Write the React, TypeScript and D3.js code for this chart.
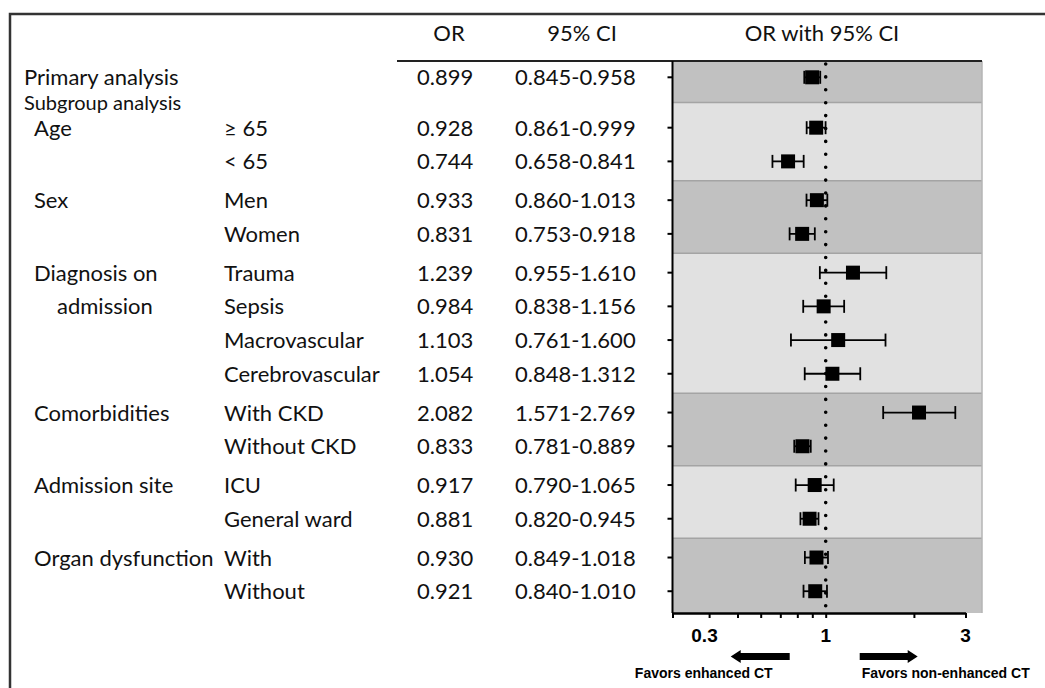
import { useEffect, useRef } from 'react'
import * as d3 from 'd3'

// table rows (first row is the primary analysis)
const groupLabels = [
  ['Primary analysis'],
  ['Age'],
  ['Sex'],
  ['Diagnosis on', 'admission'],
  ['Comorbidities'],
  ['Admission site'],
  ['Organ dysfunction']
]
const rowGroup = [0, 1, 1, 2, 2, 3, 3, 3, 3, 4, 4, 5, 5, 6, 6]
const rowLabels = ['', '≥ 65', '< 65', 'Men', 'Women', 'Trauma', 'Sepsis', 'Macrovascular',
  'Cerebrovascular', 'With CKD', 'Without CKD', 'ICU', 'General ward', 'With', 'Without']
const oddsRatio = [0.899, 0.928, 0.744, 0.933, 0.831, 1.239, 0.984, 1.103, 1.054, 2.082, 0.833, 0.917, 0.881, 0.930, 0.921]
const ciLower = [0.845, 0.861, 0.658, 0.860, 0.753, 0.955, 0.838, 0.761, 0.848, 1.571, 0.781, 0.790, 0.820, 0.849, 0.840]
const ciUpper = [0.958, 0.999, 0.841, 1.013, 0.918, 1.610, 1.156, 1.600, 1.312, 2.769, 0.889, 1.065, 0.945, 1.018, 1.010]
const xTicks = [0.3, 0.4, 0.5, 0.6, 0.7, 0.8, 0.9, 1, 2, 3]
const xTickLabels = [0.3, 1, 3]

export default function App() {
  const svgRef = useRef<SVGSVGElement>(null)

  useEffect(() => {
    document.body.style.margin = '0'
    const svg = d3.select(svgRef.current)
    svg.selectAll('*').remove()

    const tableFont = 'Lato, Calibri, sans-serif'
    const axisFont = '"Liberation Sans", Arial, sans-serif'
    const plotLeft = 672.5
    const plotRight = 982
    const plotTop = 61
    const plotBottom = 613

    // scales
    const xScale = d3.scaleLog().domain([0.3, 3]).range([plotLeft, 965.5])
    // rows: step 33.7, extra gap between groups, extra gap for the subgroup heading
    const slot = (i: number) => i + rowGroup[i] * 0.151 + (i > 0 ? 0.344 : 0)
    const yStep = d3.scaleLinear().domain([0, 1]).range([77.3, 111])
    const rowY = (i: number) => yStep(slot(i))
    const fmt = d3.format('.3f')

    // frame
    svg.append('path')
      .attr('d', 'M10,688 V14 H1045')
      .attr('fill', 'none')
      .attr('stroke', '#333')
      .attr('stroke-width', 2.5)

    // bands per group
    const nGroups = groupLabels.length
    const bandEdges = d3.range(nGroups + 1).map(g => {
      if (g === 0) return plotTop
      if (g === nGroups) return plotBottom
      const last = rowGroup.lastIndexOf(g - 1)
      const first = rowGroup.indexOf(g)
      return (rowY(last) + rowY(first)) / 2
    })
    svg.append('g')
      .selectAll('rect')
      .data(d3.range(nGroups))
      .join('rect')
      .attr('x', plotLeft)
      .attr('y', g => bandEdges[g])
      .attr('width', plotRight - plotLeft)
      .attr('height', g => bandEdges[g + 1] - bandEdges[g])
      .attr('fill', g => g % 2 === 0 ? '#c1c1c1' : '#e1e1e1')
    svg.append('g')
      .selectAll('line')
      .data(bandEdges.slice(1, -1))
      .join('line')
      .attr('x1', plotLeft).attr('x2', plotRight)
      .attr('y1', d => d).attr('y2', d => d)
      .attr('stroke', '#a4a4a4')
      .attr('stroke-width', 1.5)
    svg.append('line')
      .attr('x1', plotRight).attr('x2', plotRight)
      .attr('y1', plotTop).attr('y2', plotBottom)
      .attr('stroke', '#b4b4b4')
      .attr('stroke-width', 1.5)

    // header
    const header = svg.append('g')
      .style('font-family', tableFont)
      .style('font-size', '22px')
      .attr('fill', '#111')
      .attr('text-anchor', 'middle')
    header.append('text').attr('x', 449).attr('y', 41).text('OR')
    header.append('text').attr('x', 582).attr('y', 41).text('95% CI')
    header.append('text').attr('x', 822).attr('y', 41).text('OR with 95% CI')
    svg.append('line')
      .attr('x1', 397).attr('x2', plotRight)
      .attr('y1', plotTop).attr('y2', plotTop)
      .attr('stroke', '#222')
      .attr('stroke-width', 2)

    // table text
    const table = svg.append('g')
      .style('font-family', tableFont)
      .style('font-size', '22px')
      .attr('fill', '#111')
    table.append('text')
      .attr('x', 24).attr('y', rowY(0) + 32.7)
      .style('font-size', '20px')
      .text('Subgroup analysis')
    groupLabels.forEach((lines, g) => {
      const first = rowGroup.indexOf(g)
      lines.forEach((line, j) => {
        table.append('text')
          .attr('x', g === 0 ? 24 : (j === 0 ? 34 : 57))
          .attr('y', rowY(first + j) + 8)
          .text(line)
      })
    })
    table.selectAll('.sub')
      .data(rowLabels)
      .join('text')
      .attr('class', 'sub')
      .attr('x', 224)
      .attr('y', (_, i) => rowY(i) + 8)
      .text(d => d)
    table.selectAll('.or')
      .data(oddsRatio)
      .join('text')
      .attr('class', 'or')
      .attr('x', 417)
      .attr('y', (_, i) => rowY(i) + 8)
      .text(d => fmt(d))
    table.selectAll('.ci')
      .data(ciLower)
      .join('text')
      .attr('class', 'ci')
      .attr('x', 515)
      .attr('y', (_, i) => rowY(i) + 8)
      .text((d, i) => `${fmt(d)}-${fmt(ciUpper[i])}`)

    // reference line at OR = 1
    svg.append('line')
      .attr('x1', xScale(1)).attr('x2', xScale(1))
      .attr('y1', plotTop + 3).attr('y2', plotBottom - 4)
      .attr('stroke', '#000')
      .attr('stroke-width', 3.6)
      .attr('stroke-linecap', 'round')
      .attr('stroke-dasharray', '0 12.9')

    // whiskers + markers
    const marks = svg.append('g').attr('stroke', '#000').attr('stroke-width', 1.8)
    marks.selectAll('.ci-line')
      .data(oddsRatio)
      .join('line')
      .attr('class', 'ci-line')
      .attr('x1', (_, i) => xScale(ciLower[i]))
      .attr('x2', (_, i) => xScale(ciUpper[i]))
      .attr('y1', (_, i) => rowY(i))
      .attr('y2', (_, i) => rowY(i))
    marks.selectAll('.cap')
      .data([...ciLower, ...ciUpper])
      .join('line')
      .attr('class', 'cap')
      .attr('x1', d => xScale(d))
      .attr('x2', d => xScale(d))
      .attr('y1', (_, i) => rowY(i % oddsRatio.length) - 6.5)
      .attr('y2', (_, i) => rowY(i % oddsRatio.length) + 6.5)
    svg.append('g')
      .selectAll('rect')
      .data(oddsRatio)
      .join('rect')
      .attr('x', d => xScale(d) - 7)
      .attr('y', (_, i) => rowY(i) - 7)
      .attr('width', 14)
      .attr('height', 14)
      .attr('fill', '#000')

    // left axis
    const yAxis = svg.append('g')
    yAxis.append('line')
      .attr('x1', plotLeft).attr('x2', plotLeft)
      .attr('y1', plotTop).attr('y2', plotBottom)
      .attr('stroke', '#000').attr('stroke-width', 2)
    yAxis.selectAll('.ytick')
      .data(oddsRatio)
      .join('line')
      .attr('class', 'ytick')
      .attr('x1', plotLeft - 5).attr('x2', plotLeft)
      .attr('y1', (_, i) => rowY(i)).attr('y2', (_, i) => rowY(i))
      .attr('stroke', '#000').attr('stroke-width', 2)

    // bottom axis
    const xAxis = d3.axisBottom(xScale)
      .tickValues(xTicks)
      .tickSize(5)
      .tickSizeOuter(0)
      .tickFormat(() => '')
    const xg = svg.append('g')
      .attr('transform', `translate(0,${plotBottom})`)
      .call(xAxis)
    xg.select('.domain').attr('stroke', '#000').attr('stroke-width', 2.5)
    xg.selectAll('.tick line').attr('stroke', '#000').attr('stroke-width', 2)

    svg.append('g')
      .selectAll('text')
      .data(xTickLabels)
      .join('text')
      .attr('x', d => xScale(d) + (d === 0.3 ? 32 : 0))
      .attr('y', 642)
      .attr('text-anchor', 'middle')
      .style('font-family', axisFont)
      .style('font-size', '19px')
      .style('font-weight', 'bold')
      .text(d => d)

    // direction arrows
    const arrowY = 656.5
    const arrow = (tail: number, tip: number) => {
      const dir = Math.sign(tip - tail)
      const neck = tip - dir * 10
      return `M${tail},${arrowY - 3.5} H${neck} V${arrowY - 6.5} L${tip},${arrowY} L${neck},${arrowY + 6.5} V${arrowY + 3.5} H${tail} Z`
    }
    svg.append('path').attr('d', arrow(xScale(1) - 36, xScale(1) - 95)).attr('fill', '#000')
    svg.append('path').attr('d', arrow(xScale(1) + 34, xScale(1) + 92)).attr('fill', '#000')

    const favors = svg.append('g')
      .attr('text-anchor', 'middle')
      .style('font-family', axisFont)
      .style('font-size', '14px')
      .style('font-weight', 'bold')
    favors.append('text').attr('x', xScale(1) - 122).attr('y', 678).text('Favors enhanced CT')
    favors.append('text').attr('x', xScale(1) + 120).attr('y', 678).text('Favors non-enhanced CT')
  }, [])

  return <svg ref={svgRef} width={1045} height={688} style={{ display: 'block', background: '#fff' }} />
}
